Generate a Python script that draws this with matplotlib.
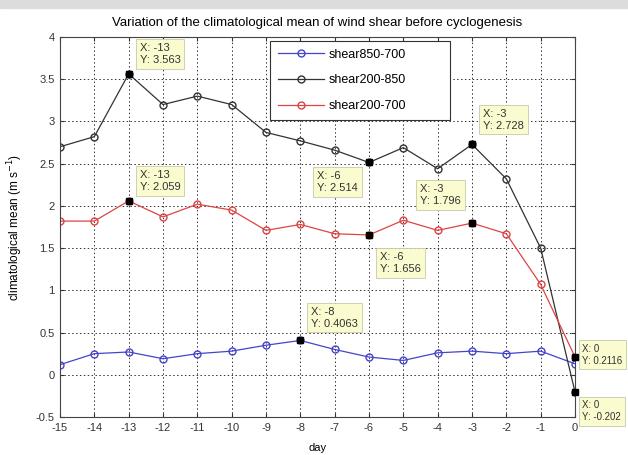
import matplotlib
matplotlib.use('Agg')
import matplotlib.pyplot as plt
from matplotlib.ticker import FormatStrFormatter
from matplotlib.patches import Rectangle

plt.rcParams['font.family'] = ['Liberation Sans', 'DejaVu Sans']
plt.rcParams['axes.unicode_minus'] = False

days = [-15, -14, -13, -12, -11, -10, -9, -8, -7, -6, -5, -4, -3, -2, -1, 0]

shear850_700 = [0.12, 0.25, 0.27, 0.19, 0.25, 0.28, 0.35, 0.4063, 0.30, 0.21,
                0.17, 0.26, 0.28, 0.25, 0.28, 0.13]
shear200_850 = [2.70, 2.82, 3.563, 3.20, 3.30, 3.20, 2.87, 2.77, 2.66, 2.514,
                2.69, 2.44, 2.728, 2.32, 1.50, -0.2025]
shear200_700 = [1.82, 1.82, 2.059, 1.87, 2.02, 1.95, 1.71, 1.78, 1.67, 1.656,
                1.83, 1.71, 1.796, 1.67, 1.07, 0.2116]

# data tips (x, y, shown y text)
tip_x = [-13, -13, -6, -3, -6, -8, -3, 0, 0]
tip_y = [3.563, 2.059, 2.514, 1.796, 1.656, 0.4063, 2.728, 0.2116, -0.2025]
tip_ytext = ['3.563', '2.059', '2.514', '1.796', '1.656', '0.4063', '2.728', '0.2116', '-0.202']
# where the box sits relative to the point: gap in pixels (dx, dy), corner, font size
tip_place = [(7, 5, 'left', 'bottom', 8), (7, 5, 'left', 'bottom', 8),
             (-7, -5, 'right', 'top', 8), (-7, 13, 'right', 'bottom', 8),
             (7, -13, 'left', 'top', 8), (7, 8, 'left', 'bottom', 8),
             (7, 10, 'left', 'bottom', 8), (4, -12, 'left', 'bottom', 7),
             (4, -5, 'left', 'top', 7)]

fig = plt.figure(figsize=(6.28, 4.55), dpi=100)
fig.patches.append(Rectangle((0, 1 - 8 / 455), 1, 8 / 455, transform=fig.transFigure,
                             color='#dcdcdc', zorder=0))
ax = fig.add_axes([60 / 628, 1 - 417 / 455, 515 / 628, 380 / 455])

ax.plot(days, shear850_700, color='#4444cc', marker='o', mfc='none', ms=5,
        lw=0.9, label='shear850-700')
ax.plot(days, shear200_850, color='#333333', marker='o', mfc='none', ms=5,
        lw=0.9, label='shear200-850')
ax.plot(days, shear200_700, color='#dd4444', marker='o', mfc='none', ms=5,
        lw=0.9, label='shear200-700')

ax.set_xlim(-15, 0)
ax.set_ylim(-0.5, 4)
ax.set_xticks(days)
ax.set_yticks([-0.5, 0, 0.5, 1, 1.5, 2, 2.5, 3, 3.5, 4])
ax.yaxis.set_major_formatter(FormatStrFormatter('%g'))
ax.tick_params(direction='in', labelsize=8, length=3, top=True, right=True,
               pad=4, colors='#333333')
ax.grid(True, color='#333333', linestyle=(0, (1.5, 2.5)), linewidth=0.7)
for s in ax.spines.values():
    s.set_color('#444444')

ax.set_xlabel('day', fontsize=8)
ax.xaxis.set_label_coords(0.5, -0.068)
ax.set_ylabel('climatological mean (m s$^{-1}$)', fontsize=8.5)
ax.yaxis.set_label_coords(-0.087, 0.5)
ax.yaxis.label.set_va('center')
ax.set_title('Variation of the climatological mean of wind shear before cyclogenesis',
             fontsize=9.5, pad=8)

for x, y, ytxt, (dx, dy, ha, va, fs) in zip(tip_x, tip_y, tip_ytext, tip_place):
    ax.plot([x], [y], marker='s', color='black', ms=5, clip_on=False, zorder=7)
    pad_px = 0.35 * fs * 100 / 72
    ox = dx + (pad_px if dx > 0 else -pad_px)
    oy = dy + (pad_px if va == 'bottom' else -pad_px)
    ax.annotate('X: %d\nY: %s' % (x, ytxt), xy=(x, y), xytext=(ox, oy),
                textcoords='offset pixels', ha=ha, va=va, fontsize=fs,
                linespacing=1.25, multialignment='left', color='#333333',
                annotation_clip=False, zorder=6,
                bbox=dict(boxstyle='square,pad=0.35', fc='#fbfbd0', ec='#c8c8a8', lw=0.6))

leg = ax.legend(loc='upper left', bbox_to_anchor=(0.408, 0.989, 0.35, 0), mode='expand',
                borderaxespad=0, fontsize=9, handlelength=3.7, handletextpad=0.4,
                labelspacing=1.1, borderpad=0.6,
                fancybox=False, framealpha=1, edgecolor='#333333')
leg.get_frame().set_linewidth(0.8)

fig.savefig('out.png', dpi=100)
